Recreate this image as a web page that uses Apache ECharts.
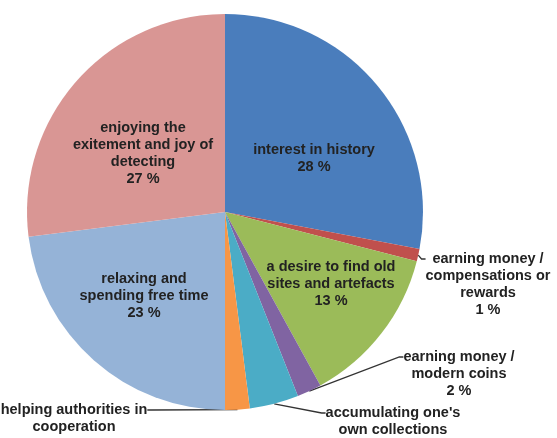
<!DOCTYPE html>
<html>
<head>
<meta charset="utf-8">
<script src="https://cdn.jsdelivr.net/npm/echarts@6/dist/echarts.min.js"></script>
<style>
  html, body { margin: 0; padding: 0; background: #ffffff; }
  #chart { width: 557px; height: 438px; }
</style>
</head>
<body>
<div id="chart"></div>
<script>
// Motivations for metal detecting, share of respondents (%), clockwise from 12 o'clock
const categories = [
  'interest in history',
  'earning money /\ncompensations or\nrewards',
  'a desire to find old\nsites and artefacts',
  'earning money /\nmodern coins',
  "accumulating one's\nown collections",
  'helping authorities in\ncooperation',
  'relaxing and\nspending free time',
  'enjoying the\nexitement and joy of\ndetecting'
];
const shares = [28, 1, 13, 2, 4, 2, 23, 27];
const sliceColors = ['#4a7dbc', '#c0504d', '#9bbb59', '#8064a2', '#4bacc6', '#f79646', '#95b3d7', '#d99694'];

// Slices whose labels sit outside the pie with a leader line
const outsideLabels = [1, 3, 4, 5];
// Slices whose label shows only the category name
const nameOnlyLabels = [4, 5];

// Empty lines put above an outside label so its box is centred on the first
// text line, which is where the leader line attaches
const leadBlankLines = { 1: 3, 3: 2, 4: 1, 5: 1 };

// Label placement (box centres; for outside labels, the first text line)
const labelSpots = {
  0: [314, 158],
  1: [488, 259],
  2: [331, 284],
  3: [459, 357],
  4: [393, 413],
  5: [74, 410],
  6: [144, 296],
  7: [143, 153]
};

const chart = echarts.init(document.getElementById('chart'), null, { renderer: 'canvas' });

const data = categories.map((name, i) => {
  const outside = outsideLabels.includes(i);
  const lead = '\n'.repeat(leadBlankLines[i] || 0);
  const text = nameOnlyLabels.includes(i) ? name : name + '\n' + shares[i] + ' %';
  return {
    name: name,
    value: shares[i],
    itemStyle: { color: sliceColors[i] },
    label: {
      position: outside ? 'outside' : 'inside',
      formatter: () => lead + text
    },
    labelLine: { show: outside }
  };
});

chart.setOption({
  animation: false,
  backgroundColor: '#ffffff',
  series: [{
    type: 'pie',
    center: [225, 212],
    radius: [0, 198],
    startAngle: 90,
    clockwise: true,
    avoidLabelOverlap: false,
    silent: true,
    itemStyle: { borderWidth: 0 },
    label: {
      show: true,
      color: '#222222',
      fontFamily: '"Liberation Sans", Arial, sans-serif',
      fontWeight: 'bold',
      fontSize: 14.5,
      lineHeight: 17,
      align: 'center'
    },
    labelLine: {
      show: true,
      length: 4,
      length2: 4,
      lineStyle: { color: '#333333', width: 1.3 }
    },
    labelLayout: params => {
      const spot = labelSpots[params.dataIndex];
      return {
        x: spot[0],
        y: spot[1],
        align: 'center',
        verticalAlign: 'middle'
      };
    },
    data: data
  }]
});
</script>
</body>
</html>
